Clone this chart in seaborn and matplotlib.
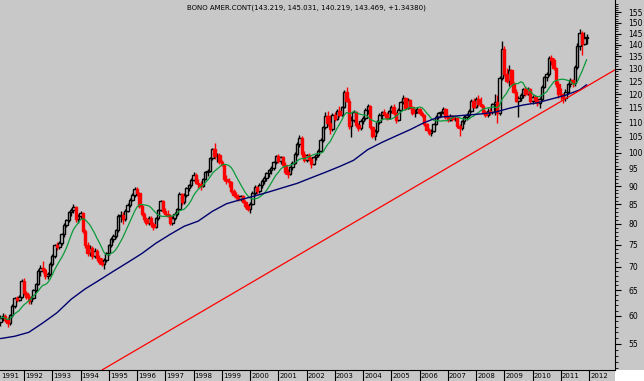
import numpy as np
import pandas as pd
import matplotlib
matplotlib.use("Agg")
import matplotlib.pyplot as plt
import seaborn as sns
import matplotlib.transforms as mtransforms
from matplotlib.ticker import FixedLocator, NullFormatter, FuncFormatter, NullLocator
from matplotlib.patches import Rectangle

# ---------------- data ----------------
title = "BONO AMER.CONT(143.219, 145.031, 140.219, 143.469, +1.34380)"
first_month = "1991-03-01"
years = list(range(1991, 2013))
y_ticks = list(range(55, 156, 5))

open_ = [
    58.8, 59.6, 59.9, 59.2, 58.6, 60.1, 61.9, 63.4, 63.1, 63.6,
    67.0, 64.4, 63.7, 62.8, 63.5, 65.0, 66.3, 69.0, 69.6, 69.2, 67.9, 68.4,
    70.6, 72.4, 74.9, 74.4, 75.4, 77.4, 79.8, 80.9, 82.9, 83.5, 84.3, 81.2,
    82.1, 82.8, 78.3, 74.8, 73.1, 74.3, 72.4, 73.6, 72.0, 71.0, 70.6, 71.5,
    73.0, 74.8, 76.3, 77.1, 78.4, 82.0, 82.3, 81.2, 83.3, 84.8, 86.3, 87.6,
    89.3, 88.0, 84.6, 82.6, 81.2, 80.3, 81.5, 80.0, 79.2, 81.4, 83.5, 85.8,
    83.4, 82.6, 82.1, 80.3, 81.6, 82.5, 83.9, 87.8, 85.6, 87.6, 89.4, 90.2,
    91.9, 93.3, 91.0, 90.6, 90.1, 92.0, 94.1, 94.5, 98.3, 101.0, 98.8, 99.3,
    97.0, 96.3, 92.1, 91.6, 91.2, 88.6, 87.6, 87.0, 86.5, 87.2, 85.7, 84.7,
    83.9, 85.1, 88.1, 89.7, 88.6, 90.3, 91.5, 92.3, 93.8, 94.6, 95.2, 97.0,
    98.8, 97.4, 98.5, 96.2, 94.2, 93.6, 95.5, 96.9, 99.6, 102.6, 104.8, 99.4,
    97.8, 99.1, 97.9, 96.6, 98.6, 99.2, 100.6, 104.0, 108.2, 112.0, 109.6, 107.5,
    112.5, 111.2, 114.0, 112.6, 115.3, 120.8, 117.6, 108.6, 110.8, 113.5, 109.0, 107.8,
    110.2, 111.4, 114.3, 115.5, 108.3, 105.2, 107.0, 110.0, 112.6, 113.4, 112.8, 111.4,
    113.8, 115.4, 113.0, 110.8, 114.3, 117.2, 118.6, 115.0, 117.8, 115.2, 113.2, 113.6,
    114.6, 113.0, 112.4, 109.2, 107.4, 106.4, 107.0, 109.4, 111.8, 113.0, 113.4, 114.6,
    111.8, 110.6, 112.2, 111.0, 111.4, 108.6, 108.0, 110.2, 111.8, 112.4, 114.0, 117.6,
    115.4, 118.2, 116.4, 115.8, 113.6, 112.4, 114.0, 113.4, 116.2, 117.0, 113.2, 126.2,
    138.2, 128.0, 125.0, 129.4, 124.0, 121.0, 117.4, 118.6, 119.8, 121.8, 120.2, 122.0,
    117.4, 119.0, 117.8, 116.8, 118.2, 122.8, 126.6, 128.0, 134.2, 133.4, 130.4, 124.0,
    120.2, 119.2, 118.4, 121.0, 123.8, 125.6, 124.2, 130.6, 139.6, 145.4, 140.4, 143.219,
]
high = [
    60.2, 60.5, 60.3, 59.8, 60.4, 62.3, 63.7, 63.9, 64.0, 67.3,
    67.5, 64.8, 64.3, 63.8, 65.3, 66.6, 69.4, 70.3, 71.2, 69.6, 68.8, 71.0,
    72.8, 75.2, 75.6, 75.8, 77.8, 80.2, 81.3, 83.3, 84.2, 85.0, 84.6, 82.6,
    83.2, 83.0, 78.7, 75.6, 74.9, 74.6, 74.3, 74.0, 72.5, 71.8, 71.9, 73.3,
    75.2, 76.7, 77.6, 78.8, 82.5, 83.2, 83.0, 83.7, 85.3, 86.8, 88.0, 89.8,
    89.7, 88.3, 85.1, 83.1, 81.8, 82.0, 82.0, 80.6, 81.8, 83.9, 86.2, 86.1,
    84.0, 83.5, 82.4, 82.0, 83.0, 84.2, 88.4, 88.2, 88.0, 89.8, 90.6, 92.3,
    94.0, 93.7, 92.0, 91.6, 92.4, 94.5, 95.0, 98.7, 101.5, 103.0, 99.8, 99.8,
    97.6, 96.6, 93.1, 92.2, 91.5, 89.3, 88.5, 87.8, 87.6, 87.5, 86.2, 85.0,
    85.6, 88.6, 90.2, 90.1, 90.8, 92.0, 92.8, 94.2, 95.0, 95.8, 97.4, 99.3,
    99.6, 99.0, 98.9, 97.2, 95.0, 96.0, 97.3, 100.2, 103.4, 105.6, 105.2, 100.5,
    99.6, 99.9, 98.6, 98.9, 99.6, 101.0, 104.5, 108.6, 113.5, 113.8, 112.5, 113.2,
    113.5, 114.6, 115.5, 115.8, 121.5, 122.8, 118.4, 112.0, 114.2, 113.8, 109.8, 110.9,
    112.0, 114.8, 116.2, 115.9, 108.8, 107.6, 110.6, 113.2, 114.0, 114.6, 113.4, 114.2,
    116.0, 116.4, 113.4, 114.8, 117.6, 119.8, 119.0, 118.4, 118.2, 115.6, 114.4, 115.2,
    115.0, 113.8, 112.8, 109.6, 108.0, 107.6, 109.8, 112.4, 113.6, 113.8, 115.2, 115.0,
    112.4, 112.8, 112.6, 111.8, 111.6, 109.2, 110.6, 112.4, 113.0, 114.6, 118.2, 118.6,
    119.0, 119.8, 118.8, 116.4, 114.2, 114.8, 114.8, 116.8, 120.0, 119.6, 127.0, 141.8,
    139.6, 130.4, 131.4, 130.0, 124.6, 122.0, 119.2, 120.6, 122.4, 123.0, 122.6, 122.4,
    119.6, 119.6, 119.4, 118.8, 123.4, 127.2, 128.6, 135.0, 135.6, 134.4, 130.8, 125.0,
    122.2, 120.6, 121.8, 124.4, 126.4, 126.0, 131.4, 141.0, 147.0, 146.2, 145.8, 145.031,
]
low = [
    58.2, 59.0, 58.8, 58.0, 58.3, 59.8, 61.6, 62.6, 62.8, 63.4,
    64.0, 63.2, 62.3, 62.2, 63.2, 64.6, 66.0, 68.0, 68.6, 67.4, 67.3, 68.0,
    70.2, 72.0, 73.8, 73.9, 74.8, 76.9, 79.2, 80.5, 82.0, 82.8, 80.6, 80.3,
    81.3, 77.8, 74.2, 72.3, 72.4, 71.6, 71.8, 71.3, 70.6, 70.2, 69.4, 71.1,
    72.6, 74.4, 75.5, 76.6, 78.0, 80.6, 80.0, 80.8, 82.9, 84.3, 85.9, 87.0,
    87.4, 84.0, 82.0, 80.6, 79.6, 79.8, 79.3, 78.5, 78.9, 81.0, 83.2, 82.8,
    82.2, 81.8, 79.6, 79.8, 81.1, 82.1, 83.5, 84.8, 85.2, 87.1, 88.6, 89.8,
    91.5, 90.5, 89.6, 89.0, 89.8, 91.7, 93.0, 94.2, 97.8, 98.0, 97.2, 96.4,
    95.8, 91.6, 90.6, 89.9, 88.1, 87.0, 86.6, 86.0, 86.0, 85.3, 84.2, 83.4,
    82.7, 84.8, 87.6, 87.8, 88.0, 89.6, 90.5, 91.6, 92.6, 93.6, 94.7, 96.6,
    96.8, 96.6, 95.6, 93.6, 92.4, 93.1, 94.6, 96.4, 98.8, 101.8, 98.6, 97.2,
    97.2, 97.4, 95.3, 96.2, 97.8, 98.6, 100.2, 103.4, 107.6, 108.8, 106.0, 107.0,
    110.4, 110.8, 111.6, 112.2, 114.8, 117.0, 107.5, 105.0, 110.0, 108.3, 106.8, 107.2,
    109.2, 110.8, 112.8, 107.6, 104.6, 104.0, 106.4, 109.4, 111.0, 112.2, 110.8, 111.0,
    113.2, 112.6, 109.6, 110.4, 113.8, 116.4, 114.2, 114.6, 114.6, 112.6, 111.8, 113.2,
    112.4, 111.6, 108.6, 106.8, 105.6, 105.4, 106.6, 109.0, 111.0, 111.6, 112.8, 111.2,
    110.0, 110.2, 110.4, 110.2, 108.0, 105.2, 107.2, 109.2, 110.6, 111.8, 113.4, 114.8,
    115.0, 115.8, 115.2, 112.8, 111.8, 111.6, 112.4, 112.8, 112.6, 109.8, 112.6, 125.6,
    127.2, 124.2, 123.2, 123.4, 120.4, 117.0, 111.6, 117.4, 118.6, 119.4, 119.6, 116.8,
    116.4, 116.8, 115.8, 114.8, 117.6, 122.2, 125.0, 127.2, 131.6, 129.6, 122.8, 118.4,
    118.0, 116.8, 117.4, 120.2, 122.8, 122.6, 123.2, 130.0, 137.6, 135.8, 139.8, 140.219,
]
close = [
    59.6, 59.9, 59.2, 58.6, 60.1, 61.9, 63.4, 63.1, 63.6, 67.0,
    64.4, 63.7, 62.8, 63.5, 65.0, 66.3, 69.0, 69.6, 69.2, 67.9, 68.4, 70.6,
    72.4, 74.9, 74.4, 75.4, 77.4, 79.8, 80.9, 82.9, 83.5, 84.3, 81.2, 82.1,
    82.8, 78.3, 74.8, 73.1, 74.3, 72.4, 73.6, 72.0, 71.0, 70.6, 71.5, 73.0,
    74.8, 76.3, 77.1, 78.4, 82.0, 82.3, 81.2, 83.3, 84.8, 86.3, 87.6, 89.3,
    88.0, 84.6, 82.6, 81.2, 80.3, 81.5, 80.0, 79.2, 81.4, 83.5, 85.8, 83.4,
    82.6, 82.1, 80.3, 81.6, 82.5, 83.9, 87.8, 85.6, 87.6, 89.4, 90.2, 91.9,
    93.3, 91.0, 90.6, 90.1, 92.0, 94.1, 94.5, 98.3, 101.0, 98.8, 99.3, 97.0,
    96.3, 92.1, 91.6, 91.2, 88.6, 87.6, 87.0, 86.5, 87.2, 85.7, 84.7, 83.9,
    85.1, 88.1, 89.7, 88.6, 90.3, 91.5, 92.3, 93.8, 94.6, 95.2, 97.0, 98.8,
    97.4, 98.5, 96.2, 94.2, 93.6, 95.5, 96.9, 99.6, 102.6, 104.8, 99.4, 97.8,
    99.1, 97.9, 96.6, 98.6, 99.2, 100.6, 104.0, 108.2, 112.0, 109.6, 107.5, 112.5,
    111.2, 114.0, 112.6, 115.3, 120.8, 117.6, 108.6, 110.8, 113.5, 109.0, 107.8, 110.2,
    111.4, 114.3, 115.5, 108.3, 105.2, 107.0, 110.0, 112.6, 113.4, 112.8, 111.4, 113.8,
    115.4, 113.0, 110.8, 114.3, 117.2, 118.6, 115.0, 117.8, 115.2, 113.2, 113.6, 114.6,
    113.0, 112.4, 109.2, 107.4, 106.4, 107.0, 109.4, 111.8, 113.0, 113.4, 114.6, 111.8,
    110.6, 112.2, 111.0, 111.4, 108.6, 108.0, 110.2, 111.8, 112.4, 114.0, 117.6, 115.4,
    118.2, 116.4, 115.8, 113.6, 112.4, 114.0, 113.4, 116.2, 117.0, 113.2, 126.2, 138.2,
    128.0, 125.0, 129.4, 124.0, 121.0, 117.4, 118.6, 119.8, 121.8, 120.2, 122.0, 117.4,
    119.0, 117.8, 116.8, 118.2, 122.8, 126.6, 128.0, 134.2, 133.4, 130.4, 124.0, 120.2,
    119.2, 118.4, 121.0, 123.8, 125.6, 124.2, 130.6, 139.6, 145.4, 140.4, 143.0, 143.469,
]
# long moving average (navy), read every 6 months from Mar 1991, plus last month
ma_long = [
    55.9, 56.3, 57.0, 58.7, 60.6, 63.2, 65.3, 67.1, 69.0, 70.9,
    72.9, 75.3, 77.4, 79.4, 80.7, 83.2, 85.2, 86.3, 87.3, 88.4,
    89.6, 90.8, 92.4, 94.0, 95.7, 97.6, 100.9, 103.2, 105.3, 107.4,
    109.8, 111.7, 112.0, 112.4, 112.8, 113.4, 114.8, 116.0, 116.8, 118.2,
    119.6, 121.6, 123.6,
]
# straight support line (two ends)
trend_t = [1994.76, 2012.92]
trend_v = [50.67, 129.5]

# ---------------- style ----------------
sns.set_theme(style="white")
plt.rcParams['font.family'] = ['DejaVu Sans']
GREY = "#c8c8c8"

W, H = 644, 381
fig = plt.figure(figsize=(W / 100, H / 100), dpi=100)
fig.patch.set_facecolor(GREY)
ax = fig.add_axes([0, 11 / H, 615 / W, 370 / H])
ax.set_facecolor(GREY)
fig.add_artist(Rectangle((615 / W, 0), 29 / W, 11 / H, transform=fig.transFigure,
                         facecolor="white", edgecolor="none", zorder=0))

dates = pd.date_range(first_month, periods=len(close), freq="MS")
t = np.asarray(dates.year + (dates.month - 1) / 12.0, dtype=float)
o, h, l, c = (np.asarray(a, dtype=float) for a in (open_, high, low, close))
up = c >= o
dn = ~up
bw = 0.085

ax.vlines(t[up], l[up], h[up], color="black", lw=1.0, zorder=2)
ax.vlines(t[dn], l[dn], h[dn], color="#ff0000", lw=1.0, zorder=2)
ax.bar(t[up], np.maximum((c - o)[up], 0.05), bottom=o[up], width=bw,
       facecolor=GREY, edgecolor="black", lw=1.0, zorder=3)
ax.bar(t[dn], (o - c)[dn], bottom=c[dn], width=bw,
       facecolor="#ff0000", edgecolor="#ff0000", lw=1.0, zorder=3)

ma_short = pd.Series(close).rolling(10, min_periods=1).mean().to_numpy()
sns.lineplot(x=t, y=ma_short, color="#0a9a3a", lw=0.9, ax=ax, zorder=4, estimator=None)
ma_long_idx = list(range(0, 247, 6)) + [len(close) - 1]
sns.lineplot(x=t[ma_long_idx], y=ma_long, color="#00006e", lw=1.0, ax=ax, zorder=4,
             estimator=None)
ax.plot(trend_t, trend_v, color="#ff0000", lw=0.9, zorder=4)

# ---------------- axes ----------------
ax.set_yscale("log")
ax.set_ylim(50.67, 161.07)
ax.set_xlim(1991.15, 2012.92)
ax.set_xlabel("")
ax.set_ylabel("")
ax.yaxis.tick_right()
ax.yaxis.set_major_locator(FixedLocator(y_ticks))
ax.yaxis.set_major_formatter(FuncFormatter(lambda v, p: f"{v:.0f}"))
ax.yaxis.set_minor_locator(FixedLocator([v for v in range(51, 161) if v % 5]))
ax.yaxis.set_minor_formatter(NullFormatter())
ax.tick_params(axis="y", which="major", length=4.5, width=0.8, pad=5, labelsize=5.5,
               colors="black", direction="out", right=True, left=False)
ax.tick_params(axis="y", which="minor", length=2, width=0.6, colors="black",
               direction="out", right=True, left=False)

ax.set_xticks(years[1:])
ax.set_xticklabels([])
ax.xaxis.set_minor_locator(NullLocator())
ax.tick_params(axis="x", which="major", length=8, width=0.8, direction="out",
               bottom=True, colors="black")
trans = mtransforms.blended_transform_factory(ax.transData, ax.transAxes)
for yr in years:
    xpos = max(yr, 1991.15) + 0.04
    ax.text(xpos, -0.016, str(yr), transform=trans, ha="left", va="center",
            fontsize=5, color="black", clip_on=False)

for side in ("left", "top"):
    ax.spines[side].set_visible(False)
for side in ("right", "bottom"):
    ax.spines[side].set_visible(True)
    ax.spines[side].set_color("black")
    ax.spines[side].set_linewidth(0.8)

ax.text(0.4976, 1 - 8 / 370, title, transform=ax.transAxes, ha="center", va="center",
        fontsize=5, color="black")

fig.savefig("out.png", dpi=100, facecolor=fig.get_facecolor())
